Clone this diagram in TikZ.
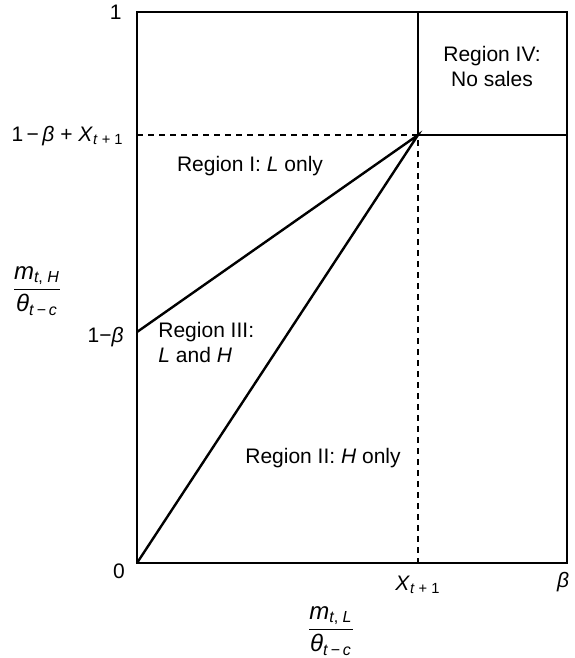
\documentclass[tikz,border=0pt]{standalone}
\usepackage{amsmath}
\usepackage{fontspec}
\setmainfont{Liberation Sans}
\newcommand{\vr}[1]{\textit{#1}}
\newcommand{\sbs}[1]{$_{\text{#1}}$}
\newcommand{\ratio}[2]{$\dfrac{\vr{#1}_{\text{#2}}}{\vr{θ}_{\text{\vr{t}\,−\,\vr{c}}}}$}

\begin{document}
\begin{tikzpicture}[x=0.5pt,y=-0.5pt,every node/.style={font=\fontsize{10.5}{12.5}\selectfont,inner sep=0pt},
  frame/.style={line width=1.2pt},
  guide/.style={line width=1.1pt,dash pattern=on 3pt off 2.5pt},
  ylab/.style={anchor=base east},
  axisname/.style={font=\fontsize{12}{14}\selectfont},
  region/.style={align=left}]
  \useasboundingbox (0,0) rectangle (574,658);
  % corners of the unit box and the kink
  \coordinate (o) at (137,563);
  \coordinate (tr) at (567,12);
  \coordinate (k) at (418,135);
  \coordinate (kt) at (418,12);
  \coordinate (kr) at (567,135);
  \coordinate (kb) at (418,563);
  \coordinate (kl) at (137,135);
  \coordinate (lb) at (137,332);
  \draw[frame] (o) rectangle (tr);
  \draw[frame] (kt) -- (k) -- (kr);
  \draw[frame] (lb) -- (k) -- (o);
  \draw[guide] (kl) -- (k) -- (kb);
  % tick labels
  \node[ylab] (one) at (122,20) {1};
  \node[ylab] (upper) at (124,141) {1\,−\,\vr{β} + \vr{X}\sbs{\vr{t} + 1}};
  \node[ylab] (lower) at (124,342) {1−\vr{β}};
  \node[anchor=base] (zero) at (119,578) {0};
  \node[anchor=base west] (xk) at (395,590) {\vr{X}\sbs{\vr{t} + 1}};
  \node[anchor=base] (beta) at (563,587) {\vr{β}};
  % axis names
  \node[axisname] (yname) at (37,291) {\ratio{m}{\vr{t}, \vr{H}}};
  \node[axisname] (xname) at (331,631) {\ratio{m}{\vr{t}, \vr{L}}};
  % regions
  \node (r1) at (250,166) {Region I: \vr{L} only};
  \node (r2) at (323,458) {Region II: \vr{H} only};
  \node[region,anchor=north west] (r3) at (158,322) {Region III:\\\vr{L} and \vr{H}};
  \node[align=center] (r4) at (492,66) {Region IV:\\No sales};
\end{tikzpicture}
\end{document}
